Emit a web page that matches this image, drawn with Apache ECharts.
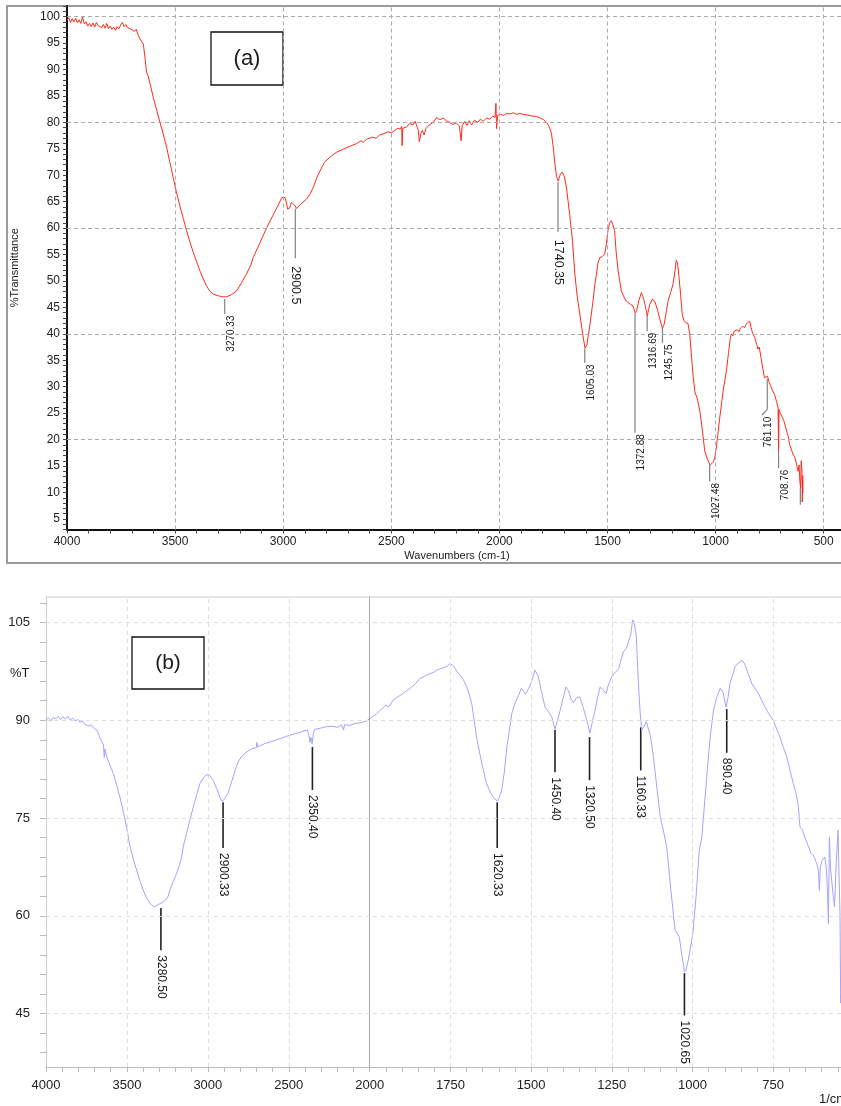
<!DOCTYPE html>
<html><head><meta charset="utf-8">
<script src="https://cdn.jsdelivr.net/npm/echarts@6/dist/echarts.min.js"></script>
<style>html,body{margin:0;padding:0;background:#fff}#c{width:841px;height:1106px}</style>
</head><body><div id="c"></div>
<script>
// ---------- DATA ----------
// Panel (a): [wavenumber cm-1, %Transmittance]
const spectrumA = [
[4000,99.3],[3992,99.8],[3984,98.9],[3976,99.6],[3968,99.0],[3960,99.7],[3952,98.8],[3944,99.4],[3936,98.7],[3928,100.0],[3920,98.6],[3912,99.0],[3904,98.2],[3896,98.7],[3888,98.1],[3880,98.8],[3872,98.0],[3864,98.9],[3856,98.3],[3848,98.6],[3840,97.9],[3832,98.5],[3824,97.8],[3816,98.7],[3808,97.7],[3800,98.2],[3792,97.6],[3784,98.0],[3776,97.4],[3768,98.1],[3760,97.7],[3752,98.4],[3744,98.9],[3736,98.1],[3728,98.5],[3720,97.9],[3712,98.2],[3704,97.6],[3696,97.9],[3688,97.2],[3680,97.6],[3670,96.4],[3660,95.6],[3647,94.8],[3640,92.5],[3632,89.5],[3625,88.8],[3615,87.2],[3601,84.7],[3585,82.3],[3570,80.0],[3555,77.8],[3539,75.2],[3525,72.6],[3509,69.6],[3495,67.0],[3478,64.2],[3462,61.8],[3447,59.5],[3430,57.2],[3416,55.4],[3400,53.6],[3385,51.9],[3370,50.4],[3354,49.0],[3338,48.0],[3323,47.5],[3300,47.2],[3280,47.0],[3262,47.0],[3240,47.4],[3216,48.1],[3195,49.5],[3170,51.3],[3150,53.0],[3139,54.4],[3110,57.0],[3076,60.1],[3060,61.4],[3045,62.6],[3025,64.2],[3006,65.8],[2992,65.8],[2985,64.8],[2980,63.6],[2970,63.8],[2962,64.9],[2954,64.8],[2945,64.2],[2938,63.7],[2920,64.5],[2892,65.5],[2875,66.5],[2861,67.7],[2845,69.5],[2830,70.8],[2810,72.4],[2784,73.4],[2755,74.3],[2723,74.9],[2690,75.5],[2660,76.0],[2640,76.5],[2630,76.2],[2614,76.8],[2590,77.2],[2570,77.0],[2555,77.6],[2538,77.8],[2515,78.2],[2500,78.0],[2480,78.6],[2470,78.9],[2460,78.7],[2452,79.2],[2450,75.6],[2447,78.9],[2430,79.1],[2415,79.8],[2400,79.5],[2390,80.2],[2383,80.2],[2376,78.6],[2370,76.3],[2364,77.8],[2356,78.5],[2348,77.6],[2340,78.8],[2325,79.5],[2306,80.0],[2291,80.9],[2275,80.5],[2260,80.8],[2245,80.3],[2230,80.0],[2215,79.6],[2200,79.9],[2185,79.3],[2177,76.5],[2172,79.4],[2160,80.2],[2150,79.4],[2140,80.3],[2128,79.5],[2115,80.4],[2100,80.0],[2088,80.6],[2075,80.2],[2060,80.8],[2045,80.6],[2030,81.2],[2020,80.9],[2016,83.6],[2013,78.8],[2008,81.3],[1995,81.5],[1980,81.3],[1967,81.7],[1950,81.6],[1935,81.8],[1920,81.5],[1906,81.7],[1890,81.5],[1870,81.4],[1850,81.2],[1829,81.1],[1810,80.8],[1795,80.5],[1782,80.0],[1770,79.2],[1759,77.8],[1750,75.0],[1744,72.4],[1736,69.8],[1728,68.9],[1718,70.2],[1710,70.6],[1700,69.8],[1690,67.7],[1675,62.6],[1662,57.6],[1651,51.3],[1640,47.0],[1628,43.7],[1615,40.0],[1604,37.3],[1595,38.0],[1582,41.5],[1567,46.2],[1558,49.5],[1551,51.3],[1545,53.2],[1536,54.4],[1525,54.6],[1513,55.1],[1505,57.0],[1498,59.5],[1490,61.0],[1482,61.4],[1475,60.6],[1467,59.5],[1460,55.5],[1451,51.9],[1436,48.1],[1422,46.8],[1413,46.2],[1395,45.6],[1382,45.3],[1372,43.9],[1365,44.4],[1355,46.3],[1343,47.8],[1332,46.5],[1322,44.6],[1316,43.4],[1305,45.5],[1292,46.6],[1280,46.0],[1268,44.4],[1258,42.8],[1246,41.0],[1238,41.8],[1228,44.2],[1220,46.2],[1208,47.8],[1197,49.4],[1188,51.9],[1182,53.9],[1176,53.4],[1170,51.0],[1162,47.5],[1155,44.0],[1148,42.6],[1138,42.1],[1128,42.0],[1120,40.0],[1112,36.0],[1105,32.5],[1096,29.0],[1085,27.8],[1073,25.4],[1062,22.0],[1050,17.8],[1040,16.5],[1030,15.6],[1025,15.2],[1018,15.3],[1010,15.8],[1004,16.6],[995,19.0],[988,21.5],[981,24.1],[972,27.0],[965,29.3],[958,31.0],[950,33.0],[940,36.5],[932,39.2],[927,40.0],[920,39.6],[914,40.5],[908,40.2],[900,40.8],[892,40.4],[885,41.1],[875,41.4],[865,41.2],[858,41.9],[850,42.1],[842,42.4],[836,41.2],[828,40.0],[819,39.3],[810,38.0],[804,37.1],[798,37.5],[790,35.5],[782,33.5],[774,31.7],[766,31.6],[760,32.0],[754,31.0],[746,30.2],[738,29.4],[727,28.5],[718,27.2],[711,26.0],[709,18.0],[707,25.7],[700,24.9],[692,24.3],[684,23.5],[676,22.3],[670,21.4],[664,20.6],[658,19.1],[650,18.2],[642,17.2],[635,16.8],[627,15.6],[622,14.6],[618,14.0],[614,15.2],[610,12.0],[607,10.9],[604,16.0],[601,14.5],[599,8.2],[597,13.2],[596,9.9]
];
// Panel (b): [wavenumber 1/cm, %T]
const spectrumB = [
[4000,90.1],[3985,90.3],[3970,89.9],[3955,90.4],[3940,90.2],[3925,90.6],[3910,90.1],[3895,90.5],[3880,90.2],[3865,90.6],[3850,90.0],[3835,90.3],[3820,89.9],[3805,90.1],[3790,89.7],[3775,89.9],[3760,89.4],[3749,89.7],[3735,89.1],[3720,89.3],[3705,88.8],[3687,88.5],[3675,87.9],[3665,87.2],[3656,86.9],[3645,86.2],[3640,84.3],[3636,85.6],[3625,84.4],[3610,83.4],[3600,82.8],[3584,81.8],[3563,80.0],[3543,78.2],[3522,75.9],[3502,73.6],[3481,70.6],[3460,68.6],[3440,67.0],[3420,65.4],[3399,63.9],[3380,62.8],[3358,61.9],[3340,61.5],[3327,61.4],[3310,61.7],[3300,61.5],[3290,61.9],[3280,61.8],[3270,62.2],[3255,62.6],[3245,63.0],[3235,63.9],[3215,65.2],[3193,66.5],[3175,67.8],[3162,69.0],[3152,70.6],[3130,72.8],[3111,74.7],[3080,77.6],[3049,80.3],[3020,81.4],[2998,81.7],[2985,81.4],[2967,80.8],[2945,79.5],[2926,78.2],[2910,77.5],[2895,78.0],[2875,78.8],[2860,80.0],[2844,81.3],[2825,82.8],[2813,83.6],[2790,84.5],[2762,85.1],[2730,85.6],[2700,85.8],[2697,86.6],[2692,85.9],[2650,86.4],[2597,86.8],[2550,87.2],[2494,87.7],[2450,88.0],[2400,88.4],[2385,88.5],[2375,87.6],[2370,86.6],[2363,87.4],[2356,86.4],[2348,88.0],[2340,88.6],[2300,88.8],[2268,89.0],[2230,89.1],[2200,88.9],[2175,89.3],[2162,88.5],[2155,89.3],[2123,89.2],[2090,89.5],[2060,89.6],[2041,89.7],[2020,89.9],[2000,90.2],[1990,90.6],[1980,90.9],[1968,91.5],[1950,92.3],[1942,92.0],[1927,93.1],[1900,94.0],[1875,94.9],[1860,95.5],[1844,96.4],[1820,97.0],[1800,97.4],[1792,97.7],[1775,98.0],[1760,98.3],[1751,98.7],[1740,98.3],[1730,97.5],[1720,96.9],[1710,96.2],[1699,95.1],[1684,92.6],[1669,87.4],[1653,83.4],[1638,80.3],[1625,78.8],[1617,78.2],[1605,77.6],[1598,78.2],[1591,79.3],[1583,82.0],[1575,85.9],[1567,88.5],[1560,91.0],[1550,92.6],[1539,93.8],[1530,94.9],[1524,95.1],[1518,94.0],[1514,93.8],[1508,94.8],[1500,95.7],[1488,97.7],[1483,97.4],[1478,96.7],[1468,94.5],[1457,92.0],[1446,91.3],[1436,90.5],[1426,88.6],[1418,90.0],[1410,91.5],[1400,93.5],[1392,95.1],[1384,94.5],[1376,93.2],[1369,92.7],[1360,93.4],[1350,93.6],[1342,92.5],[1333,91.0],[1325,89.5],[1318,88.0],[1310,89.8],[1302,91.5],[1294,93.5],[1286,95.1],[1276,94.6],[1268,94.1],[1260,95.5],[1250,96.7],[1240,97.3],[1229,97.9],[1220,99.5],[1214,100.5],[1205,101.0],[1199,101.3],[1192,103.0],[1185,105.4],[1180,104.8],[1174,102.8],[1168,96.1],[1162,91.0],[1157,88.5],[1150,89.0],[1143,89.8],[1138,90.1],[1130,87.5],[1121,84.4],[1110,79.5],[1100,75.2],[1090,73.0],[1080,70.6],[1067,63.9],[1054,57.8],[1041,56.8],[1033,54.0],[1025,51.4],[1020,51.8],[1013,53.2],[999,57.3],[989,62.9],[979,70.1],[971,72.1],[956,81.3],[945,87.5],[935,91.5],[925,93.5],[914,94.9],[905,94.2],[896,92.0],[890,93.5],[884,95.6],[868,98.2],[858,98.8],[847,99.2],[838,98.6],[830,97.5],[816,95.6],[796,94.1],[780,92.5],[770,91.5],[750,90.0],[729,87.4],[719,85.9],[708,84.4],[688,80.3],[680,79.0],[672,76.7],[667,73.6],[660,73.2],[651,71.9],[645,72.2],[633,69.6],[625,69.2],[615,68.0],[610,67.0],[607,63.9],[604,67.5],[598,68.5],[590,69.0],[585,67.0],[582,64.0],[579,58.8],[576,72.1],[572,67.0],[568,65.0],[564,63.0],[560,61.4],[555,68.0],[549,73.1],[546,66.0],[543,60.0],[541,46.6],[540,48.0]
];

// axis tick labels / grid positions
const labelsAx = [4000,3500,3000,2500,2000,1500,1000,500];
const labelsAy = [5,10,15,20,25,30,35,40,45,50,55,60,65,70,75,80,85,90,95,100];
const gridAx = [3500,3000,2500,2000,1500,1000,500];
const gridAy = [20,40,60,80,100];
const labelsBxLeft = [4000,3500,3000,2500,2000];
const labelsBxRight = [1750,1500,1250,1000,750];
const labelsBy = [45,60,75,90,105];
const gridBxLeft = [3500,3000,2500];
const gridBxRight = [1750,1500,1250,1000,750];

// peak annotations: [wavenumber, label, %T top of leader, %T bottom of leader, (bend wavenumber, bend %T)]
const peaksA = [
  [3270.33,'3270.33',46.6,43.75],
  [1605.03,'1605.03',37.25,34.5],
  [1372.88,'1372.88',43.8,21.3],
  [1316.69,'1316.69',43.4,40.5],
  [1245.75,'1245.75',41.1,38.3],
  [1027.48,'1027.48',15.3,12.1],
  [761.10,'761.10',31.4,25.7,786,24.6],
  [708.76,'708.76',25.4,14.6],
  [608,'',10.9,7.7]
];
const peaksAManual = [
  [2944,'2900.5',63.7,54.3],
  [1729,'1740.35',68.75,59.3]
];
const peaksB = [
  [3290,'3280.50',61.2,54.7],
  [2906,'2900.33',77.4,70.4],
  [2354,'2350.40',85.9,79.3],
  [1605,'1620.33',77.4,70.4],
  [1426,'1450.40',88.5,82.0],
  [1319,'1320.50',87.4,80.8],
  [1160.33,'1160.33',88.9,82.3],
  [894,'890.40',91.7,85.0],
  [1025,'1020.65',51.2,44.7]
];

// ---------- CHART ----------
function range(a,b,s){const r=[];for(let v=a;v<=b+1e-9;v+=s)r.push(Math.round(v*1000)/1000);return r;}
const FONT = "'Liberation Sans', Arial, Helvetica, sans-serif";
const plain = v => String(v);
const chart = echarts.init(document.getElementById('c'), null, {renderer:'canvas'});

const hidden = {show:false};
function markGrid(xs, ys, color, dash){
  return {silent:true, symbol:['none','none'], animation:false, label:{show:false},
    lineStyle:{type:dash, color:color, width:1},
    emphasis:{disabled:true},
    data:[...ys.map(v=>({yAxis:v})), ...xs.map(v=>({xAxis:v}))]};
}

const option = {
  animation:false,
  backgroundColor:'#fff',
  textStyle:{fontFamily:FONT},
  grid:[
    {left:67, top:6, right:0, height:523.5},
    {left:46, top:597, width:323.7, height:470},
    {left:369.7, top:597, right:0, height:470}
  ],
  xAxis:[
    {gridIndex:0, type:'value', inverse:true, min:420, max:4000,
     axisLine:{show:true, onZero:false, lineStyle:{color:'#111', width:2}},
     axisTick:{show:true, customValues:range(500,4000,100), length:4, lineStyle:{color:'#444'}},
     axisLabel:{customValues:labelsAx, formatter:plain, fontSize:12, color:'#222', margin:6, fontFamily:FONT, showMinLabel:true, showMaxLabel:true},
     splitLine:hidden},
    {gridIndex:1, type:'value', inverse:true, min:2000, max:4000,
     axisLine:{show:true, onZero:false, lineStyle:{color:'#bbb', width:1}},
     axisTick:{show:true, customValues:range(2000,4000,100), length:5, lineStyle:{color:'#bbb'}},
     axisLabel:{customValues:labelsBxLeft, formatter:plain, fontSize:13, color:'#222', margin:12, fontFamily:FONT, showMinLabel:true, showMaxLabel:true},
     splitLine:hidden},
    {gridIndex:2, type:'value', inverse:true, min:540, max:2000,
     axisLine:{show:true, onZero:false, lineStyle:{color:'#bbb', width:1}},
     axisTick:{show:true, customValues:range(550,1950,50), length:5, lineStyle:{color:'#bbb'}},
     axisLabel:{customValues:labelsBxRight, formatter:plain, fontSize:13, color:'#222', margin:12, fontFamily:FONT},
     splitLine:hidden}
  ],
  yAxis:[
    {gridIndex:0, type:'value', min:3, max:102,
     axisLine:{show:true, onZero:false, lineStyle:{color:'#111', width:2}},
     axisTick:{show:true, customValues:range(3,102,1), length:4, lineStyle:{color:'#444'}},
     axisLabel:{customValues:labelsAy, formatter:plain, fontSize:12, color:'#222', margin:7, fontFamily:FONT},
     splitLine:hidden},
    {gridIndex:1, type:'value', min:36.8, max:108.9,
     axisLine:{show:true, onZero:false, lineStyle:{color:'#ccc', width:1}},
     axisTick:{show:true, customValues:range(39,108,3), length:6, lineStyle:{color:'#bbb'}},
     axisLabel:{customValues:labelsBy, formatter:plain, fontSize:13, color:'#222', margin:16, fontFamily:FONT},
     splitLine:hidden},
    {gridIndex:2, type:'value', min:36.8, max:108.9,
     axisLine:{show:true, onZero:false, lineStyle:{color:'#aaa', width:1}},
     axisTick:hidden, axisLabel:hidden, splitLine:hidden}
  ],
  series:[
    {type:'line', xAxisIndex:0, yAxisIndex:0, data:[], z:1, silent:true,
     markLine:markGrid(gridAx, gridAy, '#aaa', [4,3])},
    {type:'line', xAxisIndex:1, yAxisIndex:1, data:[], z:1, silent:true,
     markLine:markGrid(gridBxLeft, labelsBy, '#ddd', [4,4])},
    {type:'line', xAxisIndex:2, yAxisIndex:2, data:[], z:1, silent:true,
     markLine:markGrid(gridBxRight, labelsBy, '#ddd', [4,4])},
    {type:'line', xAxisIndex:0, yAxisIndex:0, data:spectrumA, symbol:'none', z:3,
     lineStyle:{color:'#ff2b1c', width:1}},
    {type:'line', xAxisIndex:1, yAxisIndex:1, data:spectrumB.filter(p=>p[0]>=2000), symbol:'none', z:3,
     lineStyle:{color:'#a3a3ff', width:1}},
    {type:'line', xAxisIndex:2, yAxisIndex:2, data:spectrumB.filter(p=>p[0]<=2000), symbol:'none', z:3,
     lineStyle:{color:'#a3a3ff', width:1}}
  ]
};
chart.setOption(option);

// ---------- ANNOTATIONS (positions via the chart's own scales) ----------
const P = (g, v, t) => chart.convertToPixel({xAxisIndex:g, yAxisIndex:g}, [v, t]);
const g = [];
function line(a, b, color, w){ g.push({type:'line', z:2, silent:true, shape:{x1:a[0],y1:a[1],x2:b[0],y2:b[1]}, style:{stroke:color, lineWidth:w}}); }
function text(x, y, str, size, rot, align, valign, extra){
  g.push(Object.assign({type:'text', z:5, silent:true, x:x, y:y, rotation:rot,
    style:{text:str, font:size+'px '+FONT, fill:'#1a1a1a', align:align, verticalAlign:valign, textAlign:align, textVerticalAlign:valign}}, extra||{}));
}

peaksA.forEach(p=>{
  const a = P(0,p[0],p[2]), b = P(0,p[0],p[3]);
  line(a,b,'#808080',1.2);
  let end = b;
  if (p.length > 4){ const c = P(0,p[4],p[5]); line(b,c,'#808080',1.2); end = c; }
  if (p[1]) text(end[0]+6.5, end[1]+1.5, p[1], 10, Math.PI/2, 'right', 'middle');
});
peaksAManual.forEach(p=>{
  const a = P(0,p[0],p[2]), b = P(0,p[0],p[3]);
  line(a,b,'#808080',1.2);
  text(b[0], b[1]+8, p[1], 12.5, -Math.PI/2, 'left', 'middle');
});
peaksB.forEach(p=>{
  const gi = p[0] >= 2000 ? 1 : 2;
  const a = P(gi,p[0],p[2]), b = P(gi,p[0],p[3]);
  line(a,b,'#222',1.6);
  text(b[0], b[1]+5, p[1], 12, -Math.PI/2, 'left', 'middle');
});

// frames, boxes and titles
const a0 = P(0,4000,102), a1 = P(0,420,3);
g.push({type:'rect', z:0, silent:true, shape:{x:7, y:a0[1], width:860, height:563-a0[1]}, style:{fill:'none', stroke:'#9a9a9a', lineWidth:2}});
text(15, (a0[1]+a1[1])/2, '%Transmittance', 11, Math.PI/2, 'center', 'middle');
text((a0[0]+a1[0])/2+3, 556, 'Wavenumbers (cm-1)', 11, 0, 'center', 'middle');
g.push({type:'rect', z:4, silent:true, shape:{x:211, y:32, width:72, height:53}, style:{fill:'#fff', stroke:'#111', lineWidth:1.3}});
text(247, 58.5, '(a)', 22, 0, 'center', 'middle');

const b0 = P(1,4000,108.9);
g.push({type:'line', z:2, silent:true, shape:{x1:b0[0], y1:b0[1], x2:841, y2:b0[1]}, style:{stroke:'#ccc', lineWidth:1}});
g.push({type:'rect', z:4, silent:true, shape:{x:132, y:637, width:72, height:52}, style:{fill:'#fff', stroke:'#111', lineWidth:1.3}});
text(168, 663, '(b)', 21, 0, 'center', 'middle');
text(10, 673, '%T', 13, 0, 'left', 'middle');
text(819, 1099, '1/cm', 13, 0, 'left', 'middle');

chart.setOption({graphic:{elements:g}});
</script>
</body></html>
